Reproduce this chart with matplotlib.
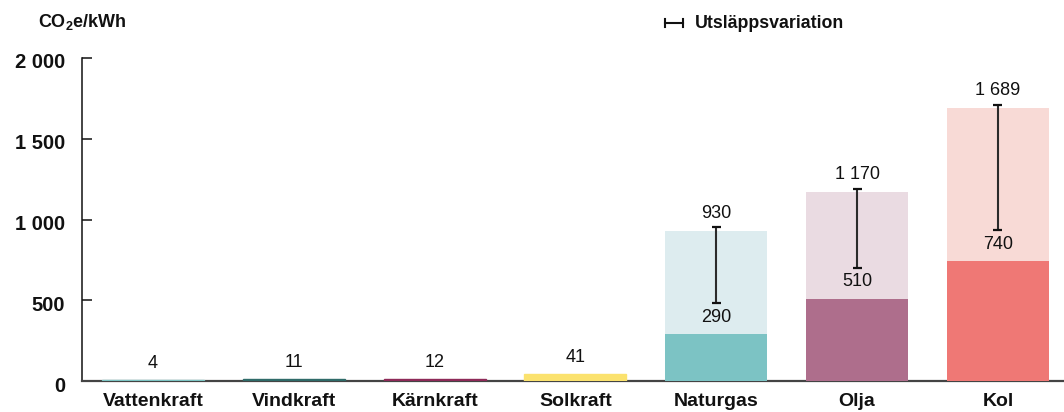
import matplotlib
matplotlib.use("Agg")
import matplotlib.pyplot as plt
import matplotlib.transforms as mtransforms
import numpy as np

plt.rcParams['font.family'] = ['Liberation Sans', 'DejaVu Sans']

categories = ["Vattenkraft", "Vindkraft", "Kärnkraft", "Solkraft", "Naturgas", "Olja", "Kol"]
values_low = [4, 11, 12, 41, 290, 510, 740]
values_high = [None, None, None, None, 930, 1170, 1689]
dark_colors = ["#7cc4c3", "#2f6b69", "#8e2a58", "#fbe26e", "#7cc3c4", "#ae6e8c", "#ef7875"]
light_colors = [None, None, None, None, "#ddecef", "#eadbe2", "#f8dad6"]
yticks = [0, 500, 1000, 1500, 2000]
ytick_labels = ["0", "500", "1 000", "1 500", "2 000"]
legend_label = "Utsläppsvariation"
unit_label = r"CO$_\mathregular{2}$e/kWh"


def fmt(v):
    return f"{v:,}".replace(",", " ")


W, H = 1064, 412
fig = plt.figure(figsize=(W / 100, H / 100), dpi=100)
ax = fig.add_axes([82 / W, 31 / H, 1 - 82 / W, (381 - 58) / H])

x = np.arange(len(categories))
bw = 0.724
ax.set_xlim(-0.504, 6.469)
ax.set_ylim(0, 2000)

ax_h_px = ax.get_position().height * H
dpp = 2000 / ax_h_px  # data units per pixel

for i, cat in enumerate(categories):
    hi = values_high[i]
    lo = values_low[i]
    if hi is not None:
        ax.bar(x[i], hi, width=bw, color=light_colors[i], linewidth=0, zorder=3)
    ax.bar(x[i], lo, width=bw, color=dark_colors[i], linewidth=1.0 if hi is None else 0,
           edgecolor=dark_colors[i], zorder=4)
    if hi is None:
        ax.text(x[i], lo + 17 * dpp, fmt(lo), ha="center", va="center", fontsize=13, color="#111111")
    else:
        top_cap = hi + 3.5 * dpp
        low_cap = lo + 31 * dpp
        ax.plot([x[i], x[i]], [low_cap, top_cap], color="#2b2b2b", lw=1.5, zorder=5,
                solid_capstyle="butt")
        for yy in (low_cap, top_cap):
            ax.plot([x[i] - 4.5 / 140.83, x[i] + 4.5 / 140.83], [yy, yy], color="#111111", lw=1.6,
                    zorder=5, solid_capstyle="butt")
        ax.text(x[i], hi + 17.5 * dpp, fmt(hi), ha="center", va="center", fontsize=13, color="#111111")
        ax.text(x[i], lo + 17 * dpp, fmt(lo), ha="center", va="center", fontsize=13, color="#111111")

ax.set_xticks(x)
ax.set_xticklabels(categories, fontsize=14, fontweight="bold", color="#111111")
ax.tick_params(axis="x", length=0, pad=9)
ax.set_yticks(yticks)
ax.set_yticklabels(ytick_labels, fontsize=14.5, fontweight="bold", color="#111111")
ax.tick_params(axis="y", direction="in", length=7.5, width=1.1, pad=12, color="#111111")
off = mtransforms.ScaledTranslation(0, -3 / 100, fig.dpi_scale_trans)
for lab in ax.get_yticklabels():
    lab.set_transform(lab.get_transform() + off)

for s in ("top", "right"):
    ax.spines[s].set_visible(False)
ax.spines["left"].set_linewidth(1.1)
ax.spines["left"].set_color("#111111")
ax.spines["bottom"].set_linewidth(1.6)
ax.spines["bottom"].set_color("#444444")

fig.text(38 / W, 1 - 22 / H, unit_label, fontsize=13, fontweight="bold", ha="left", va="center",
         color="#111111")

# legend for variation
ly = 1 - 23 / H
fig.add_artist(plt.Line2D([665 / W, 683 / W], [ly, ly], color="#111111", lw=1.5, transform=fig.transFigure))
for xx in (665, 683):
    fig.add_artist(plt.Line2D([xx / W, xx / W], [ly - 4 / H, ly + 4 / H], color="#111111", lw=1.5,
                              transform=fig.transFigure))
fig.text(695 / W, ly, legend_label, fontsize=12.8, fontweight="bold", ha="left", va="center", color="#111111")

fig.savefig("out.png", dpi=100)
